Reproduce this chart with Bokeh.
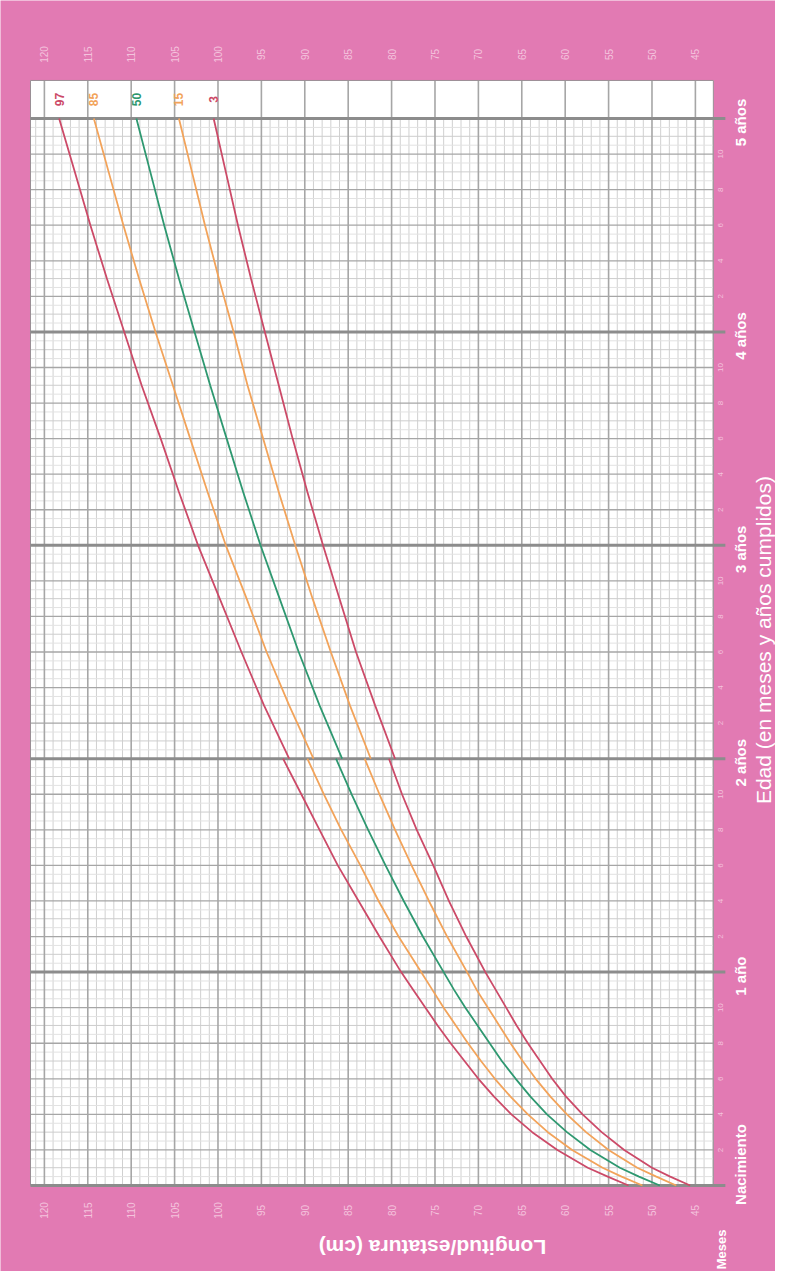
import math
from bokeh.plotting import figure
from bokeh.models import Range1d
from bokeh.core.properties import value
from bokeh.embed import file_html
from bokeh.resources import INLINE

# ---------------- data ----------------
months_len = [0, 0.5, 1, 2, 3, 4, 5, 6, 7, 8, 9, 10, 11, 12, 14, 16, 18, 20, 22, 24]
p3_len  = [45.6, 47.9, 50.0, 53.2, 55.8, 58.0, 59.9, 61.5, 62.9, 64.3, 65.6, 66.8, 68.0, 69.2, 71.4, 73.4, 75.2, 77.1, 78.8, 80.3]
p15_len = [47.2, 49.5, 51.7, 55.0, 57.6, 59.8, 61.7, 63.4, 64.9, 66.3, 67.6, 68.9, 70.2, 71.3, 73.6, 75.7, 77.7, 79.6, 81.4, 83.1]
p50_len = [49.1, 51.5, 53.7, 57.1, 59.8, 62.1, 64.0, 65.7, 67.3, 68.7, 70.1, 71.5, 72.8, 74.0, 76.4, 78.6, 80.7, 82.7, 84.6, 86.4]
p85_len = [51.1, 53.5, 55.7, 59.2, 62.0, 64.3, 66.3, 68.1, 69.7, 71.2, 72.6, 74.0, 75.3, 76.6, 79.2, 81.5, 83.6, 85.8, 87.8, 89.7]
p97_len = [52.7, 55.1, 57.4, 60.9, 63.8, 66.2, 68.2, 70.0, 71.6, 73.2, 74.7, 76.1, 77.5, 78.9, 81.4, 83.8, 86.2, 88.3, 90.4, 92.5]

months_hgt = [24, 27, 30, 33, 36, 39, 42, 45, 48, 51, 54, 57, 60]
p3_hgt  = [79.6, 81.9, 84.1, 86.0, 87.9, 89.7, 91.4, 93.0, 94.6, 96.2, 97.7, 99.1, 100.5]
p15_hgt = [82.4, 84.8, 87.0, 89.1, 91.1, 93.0, 94.8, 96.6, 98.2, 99.9, 101.5, 103.0, 104.5]
p50_hgt = [85.7, 88.3, 90.7, 92.9, 95.1, 97.1, 99.0, 100.9, 102.7, 104.5, 106.2, 107.8, 109.4]
p85_hgt = [89.0, 91.8, 94.4, 96.7, 99.1, 101.2, 103.2, 105.2, 107.2, 109.1, 110.9, 112.6, 114.3]
p97_hgt = [91.8, 94.7, 97.3, 99.8, 102.3, 104.5, 106.6, 108.8, 110.8, 112.8, 114.7, 116.5, 118.3]

percentile_names = ["97", "85", "50", "15", "3"]

cm_ticks = [45, 50, 55, 60, 65, 70, 75, 80, 85, 90, 95, 100, 105, 110, 115, 120]
cm_tick_labels = ["45", "50", "55", "60", "65", "70", "75", "80", "85", "90", "95",
                  "100", "105", "110", "115", "120"]
month_ticks = [2, 4, 6, 8, 10, 14, 16, 18, 20, 22, 26, 28, 30, 32, 34,
               38, 40, 42, 44, 46, 50, 52, 54, 56, 58]
month_tick_labels = ["2", "4", "6", "8", "10", "2", "4", "6", "8", "10", "2", "4", "6", "8", "10",
                     "2", "4", "6", "8", "10", "2", "4", "6", "8", "10"]
year_months = [0, 12, 24, 36, 48, 60]
year_names = ["Nacimiento", "1 año", "2 años", "3 años", "4 años", "5 años"]

# ---------------- geometry / style ----------------
PINK = "#E27AB3"
PALE = "#F4C3DD"
RED = "#CC4A68"
ORANGE = "#F2A35A"
GREEN = "#2E9870"
colors = {"97": RED, "85": ORANGE, "50": GREEN, "15": ORANGE, "3": RED}
FONT = value("Liberation Sans")

W, H = 775, 1271
PX_CM = 8.68        # pixels per cm
PX_MO = 17.783      # pixels per month
CM_L, CM_R = 121.6, 42.93       # chart area (white) in cm
MO_B, MO_T = 0.0, 62.14         # chart area in months
LEFT_PAD, BOTTOM_PAD = 30, 86   # pixels from canvas edge to chart area

x_start = CM_L + LEFT_PAD / PX_CM
x_end = x_start - W / PX_CM
y_start = MO_B - BOTTOM_PAD / PX_MO
y_end = y_start + H / PX_MO

def cm_right(px):   # cm value px pixels to the right of the chart's right edge
    return CM_R - px / PX_CM

def mo_below(px):   # month value px pixels below the chart's bottom edge
    return MO_B - px / PX_MO

p = figure(width=W, height=H, x_range=Range1d(x_start, x_end), y_range=Range1d(y_start, y_end),
           output_backend="svg", toolbar_location=None,
           x_axis_location=None, y_axis_location=None,
           min_border=0, min_border_left=0, min_border_right=0,
           min_border_top=0, min_border_bottom=0)
p.grid.visible = False
p.outline_line_color = None
p.background_fill_color = PINK
p.border_fill_color = PINK

# chart area
p.quad(left=[CM_L], right=[CM_R], bottom=[MO_B], top=[MO_T],
       fill_color="white", line_color=None)

# ---------------- grid ----------------
fine_cm = [c for c in range(43, 122) if c % 5 != 0]
p.segment(x0=fine_cm, x1=fine_cm, y0=[0] * len(fine_cm), y1=[60] * len(fine_cm),
          line_color="#d0d0d0", line_width=1)
half_m = [i / 2 for i in range(1, 120) if i % 2 == 1]
p.segment(x0=[CM_L] * len(half_m), x1=[CM_R] * len(half_m), y0=half_m, y1=half_m,
          line_color="#e2e2e2", line_width=1)
one_m = [m for m in range(1, 60) if m % 2 == 1]
p.segment(x0=[CM_L] * len(one_m), x1=[CM_R] * len(one_m), y0=one_m, y1=one_m,
          line_color="#cdcdcd", line_width=1)
two_m = [m for m in range(2, 60, 2) if m % 12 != 0]
p.segment(x0=[CM_L] * len(two_m), x1=[CM_R] * len(two_m), y0=two_m, y1=two_m,
          line_color="#a6a6a6", line_width=1.3)
p.segment(x0=cm_ticks, x1=cm_ticks, y0=[MO_B] * len(cm_ticks), y1=[MO_T] * len(cm_ticks),
          line_color="#a6a6a6", line_width=1.6)
# chart border
p.quad(left=[CM_L], right=[CM_R], bottom=[MO_B], top=[MO_T],
       fill_color=None, line_color="#9a8f95", line_width=1)
# year lines, extending a little past the chart
p.segment(x0=[CM_L] * len(year_months), x1=[cm_right(12)] * len(year_months),
          y0=year_months, y1=year_months, line_color="#8c8c8c", line_width=3)

# ---------------- curves ----------------
len_series = [p97_len, p85_len, p50_len, p15_len, p3_len]
hgt_series = [p97_hgt, p85_hgt, p50_hgt, p15_hgt, p3_hgt]
for name, sl, sh in zip(percentile_names, len_series, hgt_series):
    p.line(sl, months_len, line_color=colors[name], line_width=1.8)
    p.line(sh, months_hgt, line_color=colors[name], line_width=1.8)

p.text(x=[s[-1] for s in hgt_series], y=[60 + 19 / PX_MO] * 5, text=percentile_names,
       text_color=[colors[n] for n in percentile_names], angle=math.pi / 2,
       text_align="center", text_baseline="middle",
       text_font=FONT, text_font_style="bold", text_font_size="12px")

# ---------------- tick labels ----------------
n = len(cm_ticks)
p.text(x=cm_ticks, y=[MO_T + 26 / PX_MO] * n, text=cm_tick_labels, angle=math.pi / 2,
       text_align="center", text_baseline="middle", text_color=PALE,
       text_font=FONT, text_font_size="10px")
p.text(x=cm_ticks, y=[mo_below(25)] * n, text=cm_tick_labels, angle=math.pi / 2,
       text_align="center", text_baseline="middle", text_color=PALE,
       text_font=FONT, text_font_size="10px")
p.text(x=[cm_right(7)] * len(month_ticks), y=month_ticks, text=month_tick_labels,
       angle=math.pi / 2, text_align="center", text_baseline="middle", text_color=PALE,
       text_font=FONT, text_font_size="8px")

year_label_y = [m + 21 / PX_MO if m == 0 else m - 4 / PX_MO for m in year_months]
p.text(x=[cm_right(27)] * len(year_months), y=year_label_y, text=year_names,
       angle=math.pi / 2, text_align="center", text_baseline="middle", text_color="white",
       text_font=FONT, text_font_style="bold", text_font_size="15px")

# ---------------- titles ----------------
p.text(x=[cm_right(50)], y=[(MO_B + MO_T) / 2 - 0.4], text=["Edad (en meses y años cumplidos)"],
       angle=math.pi / 2, text_align="center", text_baseline="middle", text_color="white",
       text_font=FONT, text_font_size="21px")
p.text(x=[75.3], y=[mo_below(62)], text=["Longitud/estatura (cm)"],
       angle=math.pi, text_align="center", text_baseline="middle", text_color="white",
       text_font=FONT, text_font_style="bold", text_font_size="21px")
p.text(x=[cm_right(8)], y=[mo_below(64)], text=["Meses"],
       angle=math.pi / 2, text_align="center", text_baseline="middle", text_color="white",
       text_font=FONT, text_font_style="bold", text_font_size="13px")

open("out.html", "w").write(file_html(p, INLINE))
